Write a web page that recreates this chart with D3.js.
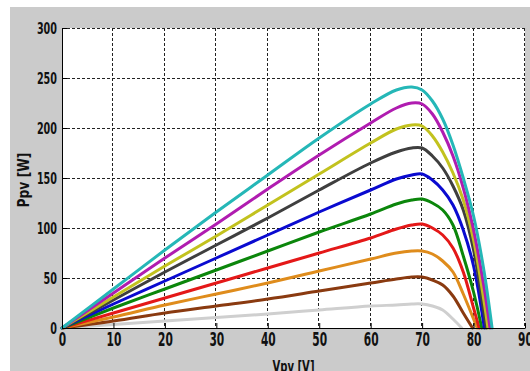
<!DOCTYPE html>
<html>
  <head>
    <title>PV power curves</title>
    <style type="text/css">
        body{
            margin: 0;
            background: #ffffff;
        }
        .tick text, .label{
            font-family: "Liberation Sans Narrow", "DejaVu Sans Condensed", "DejaVu Sans", sans-serif;
            font-weight: bold;
            fill: #111;
        }
        .grid line{
            stroke: #222;
            stroke-width: 1px;
            stroke-dasharray: 3,2;
            shape-rendering: crispEdges;
        }
        .curve{
            fill: none;
            stroke-width: 3px;
            stroke-linejoin: round;
            stroke-linecap: round;
        }
    </style>
  </head>
  <body>
    <div id="chart"></div>
    <script src="https://cdn.jsdelivr.net/npm/d3@7"></script>
    <script>

        //  Voltage grid [V] shared by all curves
        var voltage = [0, 10, 20, 30, 40, 50, 60, 65, 68, 70, 72, 74, 76, 78, 80, 82];

        //  Power [W], one array per curve (lowest to highest)
        var pGray    = [0, 3.5, 7, 10.5, 14, 18, 22, 23, 24, 24, 22, 18, 9];
        var pBrown   = [0, 7, 15, 22, 29, 37, 45, 49, 51, 51, 48, 43, 32, 15];
        var pOrange  = [0, 11, 23, 34, 45, 57, 69, 75, 77, 77, 74, 67, 56, 34, 9];
        var pRed     = [0, 15, 30, 45, 60, 75, 90, 99, 103, 104, 100, 93, 80, 56, 20];
        var pGreen   = [0, 20, 39, 58, 77, 96, 114, 124, 128, 129, 125, 118, 103, 72, 36];
        var pBlue    = [0, 24, 47, 70, 93, 116, 138, 149, 153, 154, 148, 138, 123, 98, 62];
        var pDark    = [0, 28, 56, 83, 110, 138, 165, 176, 180, 180, 172, 160, 142, 118, 78, 16];
        var pYellow  = [0, 31, 62, 92, 123, 154, 185, 199, 203, 202, 192, 176, 155, 128, 88, 28];
        var pMagenta = [0, 35, 70, 104, 139, 173, 205, 220, 225, 224, 214, 196, 172, 140, 98, 42];
        var pCyan    = [0, 39, 78, 116, 153, 190, 224, 238, 241, 238, 227, 209, 183, 150, 112, 58];

        //  Open circuit voltage where each curve comes back to zero
        var vocs = [77.7, 79.8, 80.7, 81.1, 81.6, 82.1, 82.5, 82.8, 83.2, 83.6];

        var colors = ['#cfcfcf', '#8a3a10', '#df8c1c', '#e41818', '#0b860b',
                      '#0a0ad0', '#3f3f3f', '#c2c21e', '#b01cb0', '#25b7b7'];

        var xTicks = [0, 10, 20, 30, 40, 50, 60, 70, 80, 90];
        var yTicks = [0, 50, 100, 150, 200, 250, 300];

        var series = [pGray, pBrown, pOrange, pRed, pGreen, pBlue, pDark, pYellow, pMagenta, pCyan];

        var width = 530, height = 371;
        //  note: "top" is taken by window.top, so plot edges get a prefix
        var plotL = 62, plotR = 525, plotT = 28, plotB = 328;

        var svg = d3.select("#chart").append("svg")
            .attr("width", width)
            .attr("height", height);

        //  Grey figure background
        svg.append("rect")
            .attr("x", 10).attr("y", 7)
            .attr("width", width - 10).attr("height", height - 7)
            .attr("fill", "#cbcbcb");

        //  White plot area
        svg.append("rect")
            .attr("x", plotL).attr("y", plotT)
            .attr("width", plotR - plotL).attr("height", plotB - plotT)
            .attr("fill", "#ffffff");

        var x = d3.scaleLinear().domain([0, 90]).range([plotL, plotR]);
        var y = d3.scaleLinear().domain([0, 300]).range([plotB, plotT]);

        //  Dotted grid
        var grid = svg.append("g").attr("class", "grid");
        grid.selectAll(".gx")
            .data(xTicks.filter((d) => d > 0))
            .enter().append("line")
            .attr("x1", (d) => Math.round(x(d)) - 0.5).attr("x2", (d) => Math.round(x(d)) - 0.5)
            .attr("y1", plotT).attr("y2", plotB);
        grid.selectAll(".gy")
            .data(yTicks.filter((d) => d > 0))
            .enter().append("line")
            .attr("y1", (d) => Math.round(y(d)) + 0.5).attr("y2", (d) => Math.round(y(d)) + 0.5)
            .attr("x1", plotL).attr("x2", plotR);

        //  Curves, smoothed through the read points
        var line = d3.line()
            .x((d) => x(d[0]))
            .y((d) => y(d[1]))
            .curve(d3.curveCatmullRom.alpha(0.5));

        series.forEach(function (vals, i) {
            var pts = vals.map((p, j) => [voltage[j], p]);
            pts.push([vocs[i], 0]);
            svg.append("path")
                .attr("class", "curve")
                .attr("d", line(pts))
                .attr("stroke", colors[i]);
        });

        //  Axes with inward ticks
        var xAxis = d3.axisBottom(x).tickValues(xTicks).tickSizeInner(-5).tickSizeOuter(0).tickPadding(4);
        var yAxis = d3.axisLeft(y).tickValues(yTicks).tickSizeInner(-5).tickSizeOuter(0).tickPadding(5);

        var gx = svg.append("g")
            .attr("transform", "translate(0," + plotB + ")")
            .call(xAxis);
        var gy = svg.append("g")
            .attr("transform", "translate(" + plotL + ",0)")
            .call(yAxis);

        //  Squeeze the labels to look like the narrow tall font of the original
        gx.selectAll("text")
            .style("font-size", "19px")
            .attr("textLength", (d) => String(d).length * 7.4)
            .attr("lengthAdjust", "spacingAndGlyphs");
        gy.selectAll("text")
            .style("font-size", "16px")
            .attr("textLength", (d) => String(d).length * 6.7)
            .attr("lengthAdjust", "spacingAndGlyphs");
        svg.selectAll(".domain, .tick line").attr("stroke", "#000");

        //  Axis titles
        svg.append("text")
            .attr("class", "label")
            .attr("x", (plotL + plotR) / 2)
            .attr("y", 372)
            .attr("text-anchor", "middle")
            .attr("textLength", 42)
            .attr("lengthAdjust", "spacingAndGlyphs")
            .style("font-size", "15px")
            .text("Vpv [V]");

        svg.append("text")
            .attr("class", "label")
            .attr("transform", "translate(29," + 180 + ") rotate(-90)")
            .attr("text-anchor", "middle")
            .attr("textLength", 55)
            .attr("lengthAdjust", "spacingAndGlyphs")
            .style("font-size", "15px")
            .text("Ppv [W]");

    </script>
  </body>
</html>
